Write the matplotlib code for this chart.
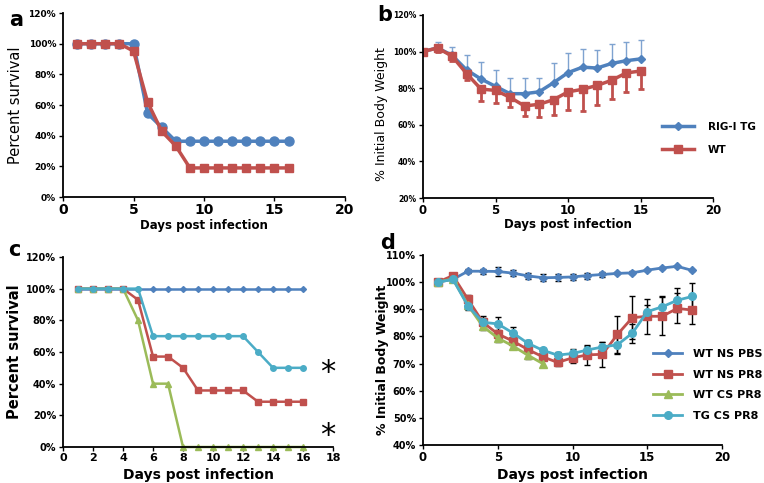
import numpy as np
import matplotlib
matplotlib.use("Agg")
import matplotlib.pyplot as plt
import matplotlib.ticker as ticker

BLUE = "#4F81BD"
RED = "#C0504D"
GREEN = "#9BBB59"
CYAN = "#4BACC6"

# panel a - survival
days_a = list(range(1, 17))
surv_tg_a = [100, 100, 100, 100, 100, 54.5, 45.5, 36.4, 36.4, 36.4, 36.4, 36.4, 36.4, 36.4, 36.4, 36.4]
surv_wt_a = [100, 100, 100, 100, 95.2, 61.9, 42.9, 33.3, 19.0, 19.0, 19.0, 19.0, 19.0, 19.0, 19.0, 19.0]

# panel b - body weight
days_b = list(range(0, 16))
wt_tg_b = [100, 102, 98, 90, 85, 81, 77, 77, 78, 83, 88.5, 91.5, 91, 93.5, 95, 96]
err_tg_b = [0, 3.5, 4.5, 8, 9.3, 9.2, 8.3, 8.3, 7.8, 10.5, 10.5, 9.8, 10, 10.5, 10.2, 10.1]
wt_wt_b = [100, 102, 97.5, 88, 79.5, 78.8, 75, 70.3, 71.2, 73.7, 78, 79.4, 81.5, 84.3, 88.3, 89.4]
err_wt_b = [0, 2, 2.5, 3.5, 6.3, 6.7, 5.5, 5.5, 6.8, 8.5, 9.8, 11.9, 10.9, 10, 10.4, 10]

# panel c - survival
days_c = list(range(1, 17))
surv_pbs_c = [100] * 16
surv_nspr8_c = [100, 100, 100, 100, 92.9, 57.1, 57.1, 50, 35.7, 35.7, 35.7, 35.7, 28.6, 28.6, 28.6, 28.6]
surv_cspr8_c = [100, 100, 100, 100, 80, 40, 40, 0, 0, 0, 0, 0, 0, 0, 0, 0]
surv_tg_c = [100, 100, 100, 100, 100, 70, 70, 70, 70, 70, 70, 70, 60, 50, 50, 50]

# panel d - body weight
days_d = list(range(1, 19))
wt_pbs_d = [100, 101, 104, 104, 103.9, 103.3, 102.3, 101.6, 101.7, 101.9, 102.4, 102.8, 103.2, 103.4, 104.4, 105.2, 105.8, 104.3]
err_pbs_d = [0, 0.4, 0.8, 1.0, 1.5, 1.2, 1.2, 1.3, 1.2, 1.1, 1.1, 0.8, 0.4, 0.5, 0.3, 0.3, 0.3, 0.3]
wt_nspr8_d = [100, 102.4, 93.7, 85.2, 80.9, 78.3, 75.2, 72.5, 70.4, 72.1, 73.2, 73.4, 80.7, 86.9, 87.4, 87.4, 90.3, 89.7]
err_nspr8_d = [0, 0.8, 1.5, 1.5, 1.5, 1.5, 1.5, 1.3, 1.3, 2, 3.8, 4.5, 6.8, 8, 6.5, 7, 5.5, 5.2]
days_d_cs = list(range(1, 9))
wt_cspr8_d = [100, 101.2, 91.5, 83.7, 79.4, 76.5, 73.1, 70]
err_cspr8_d = [0, 0.5, 1.5, 1.5, 1.5, 1.3, 1.3, 1.2]
wt_tg_d = [100, 101, 91.3, 85.2, 84.6, 81.3, 77.5, 74.9, 73.1, 73.7, 75, 76.1, 76.9, 81.2, 89.1, 90.9, 93.3, 94.7]
err_tg_d = [0, 0.5, 1.5, 2.4, 2.7, 2, 1, 1, 1.2, 1.5, 1.5, 2, 3.5, 3.5, 2.5, 4, 4.5, 5]

pct = ticker.FuncFormatter(lambda v, p: f"{v:.0f}%")


def style(ax, ysize, xsize):
    for s in ["top", "right"]:
        ax.spines[s].set_visible(False)
    for s in ["left", "bottom"]:
        ax.spines[s].set_linewidth(1.3)
    ax.tick_params(axis="y", labelsize=ysize, length=3, width=1, pad=2)
    ax.tick_params(axis="x", labelsize=xsize, length=3, width=1, pad=1)
    for lab in ax.get_xticklabels() + ax.get_yticklabels():
        lab.set_fontweight("bold")
    ax.yaxis.set_major_formatter(pct)


fig = plt.figure(figsize=(7.64, 4.83), dpi=100)

# a
ax = fig.add_axes([0.0825, 0.592, 0.369, 0.381])
ax.plot(days_a, surv_tg_a, color=BLUE, lw=2.5, marker="o", ms=6.5)
ax.plot(days_a, surv_wt_a, color=RED, lw=2.5, marker="s", ms=6)
ax.set_xlim(0, 20)
ax.set_ylim(0, 120)
ax.set_xticks(range(0, 21, 5))
ax.set_yticks(range(0, 121, 20))
style(ax, 6.5, 10)
ax.set_xlabel("Days post infection", fontsize=8.5, fontweight="bold", labelpad=2)
ax.set_ylabel("Percent survival", fontsize=10.5, labelpad=4)

# b
ax = fig.add_axes([0.5537, 0.590, 0.3796, 0.379])
ax.errorbar(days_b, wt_tg_b, yerr=[np.zeros(16), err_tg_b], color=BLUE, lw=2.5,
            marker="D", ms=4.5, ecolor="#7FA3D0", elinewidth=1, capsize=2.5, capthick=1,
            label="RIG-I TG")
ax.errorbar(days_b, wt_wt_b, yerr=[err_wt_b, np.zeros(16)], color=RED, lw=2.5,
            marker="s", ms=6, ecolor=RED, elinewidth=2, capsize=2.5, capthick=2,
            label="WT")
ax.set_xlim(0, 20)
ax.set_ylim(20, 120)
ax.set_xticks(range(0, 21, 5))
ax.set_yticks(range(20, 121, 20))
style(ax, 5.5, 8.5)
ax.set_xlabel("Days post infection", fontsize=8.5, fontweight="bold", labelpad=1)
ax.set_ylabel("% Initial Body Weight", fontsize=9, labelpad=6)
ax.yaxis.set_label_coords(-0.12, 0.46)
h, l = ax.get_legend_handles_labels()
h = [x[0] for x in h]
ax.legend(h, l, loc="upper left", bbox_to_anchor=(0.825, 0.415), frameon=False,
          prop={"weight": "bold", "size": 7.5}, handlelength=3, handletextpad=1.4,
          labelspacing=1.25, borderpad=0, borderaxespad=0)

# c
ax = fig.add_axes([0.0825, 0.0745, 0.3534, 0.3935])
ax.plot(days_c, surv_pbs_c, color=BLUE, lw=1.8, marker="D", ms=3)
ax.plot(days_c, surv_nspr8_c, color=RED, lw=1.8, marker="s", ms=4)
ax.plot(days_c, surv_cspr8_c, color=GREEN, lw=1.8, marker="^", ms=4)
ax.plot(days_c, surv_tg_c, color=CYAN, lw=1.8, marker="o", ms=4)
ax.set_xlim(0, 18)
ax.set_ylim(0, 120)
ax.set_xticks(range(0, 19, 2))
ax.set_yticks(range(0, 121, 20))
for ln in ax.lines:
    ln.set_clip_on(False)
style(ax, 7, 8)
ax.set_xlabel("Days post infection", fontsize=10, fontweight="bold", labelpad=4)
ax.set_ylabel("Percent survival", fontsize=10.5, fontweight="bold", labelpad=3)
ax.text(17.65, 47, "*", fontsize=22, ha="center", va="center")
ax.text(17.65, 7, "*", fontsize=22, ha="center", va="center")

# d
ax = fig.add_axes([0.5537, 0.0787, 0.3914, 0.3935])
ebkw = dict(ecolor="black", elinewidth=1, capsize=2, capthick=1)
ax.errorbar(days_d, wt_pbs_d, yerr=err_pbs_d, color=BLUE, lw=2, marker="D", ms=4,
            label="WT NS PBS", **ebkw)
ax.errorbar(days_d, wt_nspr8_d, yerr=err_nspr8_d, color=RED, lw=2, marker="s", ms=6,
            label="WT NS PR8", **ebkw)
ax.errorbar(days_d_cs, wt_cspr8_d, yerr=err_cspr8_d, color=GREEN, lw=2, marker="^", ms=5.5,
            label="WT CS PR8", **ebkw)
ax.errorbar(days_d, wt_tg_d, yerr=err_tg_d, color=CYAN, lw=2, marker="o", ms=5.5,
            label="TG CS PR8", **ebkw)
ax.set_xlim(0, 20)
ax.set_ylim(40, 110)
ax.set_xticks(range(0, 21, 5))
ax.set_yticks(range(40, 111, 10))
style(ax, 7, 8.5)
ax.set_xlabel("Days post infection", fontsize=10, fontweight="bold", labelpad=3)
ax.set_ylabel("% Initial Body Weight", fontsize=9, fontweight="bold", labelpad=2)
ax.yaxis.set_label_coords(-0.115, 0.45)
h, l = ax.get_legend_handles_labels()
h = [x[0] for x in h]
ax.legend(h, l, loc="upper left", bbox_to_anchor=(0.77, 0.505), frameon=False,
          prop={"weight": "bold", "size": 8}, handlelength=2.6, handletextpad=1.0,
          labelspacing=0.95, borderpad=0, borderaxespad=0)

fig.text(0.012, 0.958, "a", fontsize=15, fontweight="bold", va="center")
fig.text(0.494, 0.968, "b", fontsize=15, fontweight="bold", va="center")
fig.text(0.010, 0.483, "c", fontsize=15, fontweight="bold", va="center")
fig.text(0.497, 0.496, "d", fontsize=15, fontweight="bold", va="center")

fig.savefig("out.png", dpi=100)
